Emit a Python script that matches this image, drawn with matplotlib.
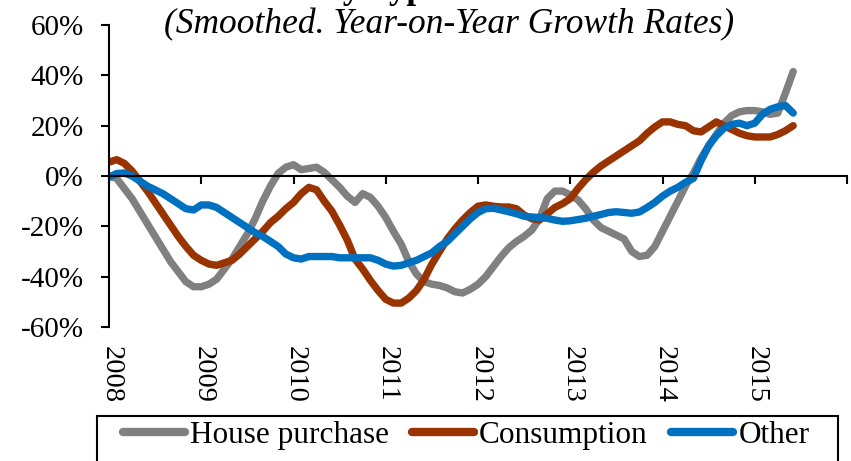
import matplotlib
matplotlib.use("Agg")
import matplotlib.pyplot as plt
from matplotlib.patches import Rectangle
import numpy as np

plt.rcParams['font.family'] = ['Liberation Serif', 'DejaVu Serif']

# Monthly observations, Jan 2008 .. Jun 2015 (percent)
house_purchase = [
    0, -1, -5, -9, -14, -19, -24, -29, -34, -38, -42, -44,
    -44, -43, -41, -37, -33, -28, -23, -17, -10, -4, 1, 3.5,
    4.5, 2.5, 3, 3.5, 1.5, -1.5, -4.5, -8, -10.5, -7, -8.5, -12,
    -16.5, -22, -27, -34, -39, -42, -43, -43.5, -44.5, -46, -46.5, -45,
    -43, -40, -36, -32, -28.5, -26, -24, -21.5, -17, -9, -6, -6,
    -7.5, -9.5, -13, -17.5, -20.5, -22, -23.5, -25, -30, -32, -31.5, -28,
    -22, -16, -10, -4, 1, 7, 12, 16.5, 21, 24, 25.5, 26,
    26, 25.5, 24.5, 25, 33, 41.5,
]
consumption = [
    5.5, 6.5, 5, 2, -2, -6, -10.5, -15, -19.5, -24, -28, -31.5,
    -33.5, -35, -35.5, -34.5, -33.5, -31, -28, -25, -22, -18.5, -16, -13,
    -10.5, -7, -4.5, -5.5, -10, -14, -19.5, -25.5, -33, -37, -41.5, -45.5,
    -49, -50.5, -50.5, -48.5, -45.5, -41, -35, -30, -25, -21, -17.5, -14.5,
    -12, -11.5, -12, -12.3, -12.3, -13, -15.5, -17, -17.5, -15, -12.5, -11,
    -9, -5, -1.5, 1.5, 4, 6, 8, 10, 12, 14, 17, 19.5,
    21.5, 21.5, 20.5, 20, 18, 17.5, 19.5, 21.5, 20, 18.5, 17, 16,
    15.5, 15.5, 15.5, 16.5, 18, 20,
]
other = [
    -0.5, 1, 1.2, 0, -2, -4, -5.5, -7, -9, -11, -13, -13.5,
    -11.5, -11.5, -12.5, -14.5, -16.5, -18.5, -20.5, -22.5, -24, -26, -28, -31,
    -32.5, -33, -32, -32, -32, -32, -32.5, -32.5, -32.5, -32.5, -32.5, -33.5,
    -35, -35.8, -35.5, -34.5, -33.5, -32, -30.5, -28, -26, -23, -20, -17,
    -14.5, -13, -12.8, -13.5, -14.2, -15, -16, -16.3, -16.5, -16.8, -17.5, -18,
    -17.8, -17.3, -16.8, -16, -15.3, -14.5, -14.2, -14.5, -14.8, -14.3, -12.5, -10.5,
    -8, -6, -4.5, -2.5, -1, 6, 12, 16, 19, 20.5, 21, 20,
    21, 24.5, 26.5, 27.5, 28, 25,
]
series_names = ["House purchase", "Consumption", "Other"]
year_labels = ["2008", "2009", "2010", "2011", "2012", "2013", "2014", "2015"]
y_ticks = [-60, -40, -20, 0, 20, 40, 60]

colors = ["#808080", "#993300", "#0070C0"]

W, H = 851, 461
fig = plt.figure(figsize=(W / 100, H / 100), dpi=100)
ax = fig.add_axes([109 / W, 1 - 327 / H, (847 - 109) / W, (327 - 25) / H])

t = 2008 + np.arange(len(house_purchase)) / 12.0
handles = []
for vals, c, name in zip([house_purchase, consumption, other], colors, series_names):
    ln, = ax.plot(t, vals, color=c, lw=5.3, solid_capstyle='round',
                  solid_joinstyle='round', label=name)
    handles.append(ln)

ax.set_xlim(2008, 2016)
ax.set_ylim(-60, 60)
ax.spines['top'].set_visible(False)
ax.spines['right'].set_visible(False)
ax.spines['bottom'].set_position(('data', 0))
for s in ['left', 'bottom']:
    ax.spines[s].set_linewidth(1.5)
    ax.spines[s].set_color('black')

ax.set_yticks(y_ticks)
ax.set_yticklabels([f"{v}%" for v in y_ticks])
ax.tick_params(axis='y', direction='out', length=6, width=1.5, pad=12, labelsize=21)
ax.set_xticks(np.arange(2008, 2017))
ax.tick_params(axis='x', direction='out', length=6, width=1.5, labelbottom=False)

for i, lab in enumerate(year_labels):
    ax.text(2008 + i + 0.02, -67.5, lab, rotation=270, ha='center', va='top',
            fontsize=20.5, clip_on=False)

# subtitle and (clipped) title
fig.text(449 / W, 1 - 33 / H, "(Smoothed. Year-on-Year Growth Rates)",
         style='italic', ha='center', va='baseline', fontsize=25.5)
fig.text(441 / W, 1 + 2 / H, "Loans by Type", weight='bold', ha='right',
         va='baseline', fontsize=25)

# legend
leg = fig.legend(handles=handles, labels=series_names, ncol=3, frameon=False,
                 loc='upper left', bbox_to_anchor=(123 / W, 1 - 421 / H),
                 bbox_transform=fig.transFigure, fontsize=22.5,
                 handlelength=1.98, handletextpad=0.16, columnspacing=0.75,
                 borderpad=0, borderaxespad=0)
for lh in leg.get_lines():
    lh.set_linewidth(6)
    lh.set_solid_capstyle('round')

fig.patches.append(Rectangle((97 / W, -0.1), (838 - 97) / W, 0.1 + (461 - 416) / H,
                             transform=fig.transFigure, fill=False,
                             edgecolor='black', lw=1.5, figure=fig))

fig.savefig("out.png", dpi=100)
